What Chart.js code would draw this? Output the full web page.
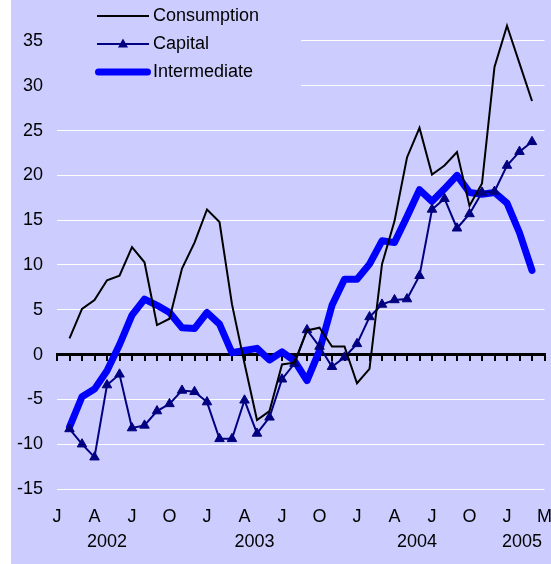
<!DOCTYPE html>
<html><head><meta charset="utf-8">
<script src="https://cdn.jsdelivr.net/npm/chart.js@4/dist/chart.umd.min.js"></script>
<style>
html,body{margin:0;padding:0;background:#fff;width:551px;height:564px;overflow:hidden}
#wrap{position:absolute;left:11px;top:0;width:540px;height:564px;background:#CCCCFF}
canvas{display:block}
</style></head><body><div id="wrap"><canvas id="c" width="540" height="564"></canvas></div>
<script>
const months = ['Jan 2002','Feb 2002','Mar 2002','Apr 2002','May 2002','Jun 2002','Jul 2002','Aug 2002','Sep 2002','Oct 2002','Nov 2002','Dec 2002',
  'Jan 2003','Feb 2003','Mar 2003','Apr 2003','May 2003','Jun 2003','Jul 2003','Aug 2003','Sep 2003','Oct 2003','Nov 2003','Dec 2003',
  'Jan 2004','Feb 2004','Mar 2004','Apr 2004','May 2004','Jun 2004','Jul 2004','Aug 2004','Sep 2004','Oct 2004','Nov 2004','Dec 2004',
  'Jan 2005','Feb 2005','Mar 2005','Apr 2005'];
const monthTicks = ['J','A','J','O','J','A','J','O','J','A','J','O','J','M'];
const yearLabels = ['2002','2003','2004','2005'];
const yTicks = [-15,-10,-5,0,5,10,15,20,25,30,35];
const consumption = [null,1.8,5.1,6.1,8.3,8.8,12.0,10.3,3.3,4.0,9.6,12.5,16.2,14.8,5.6,-1.0,-7.3,-6.3,-1.1,-0.9,2.7,3.0,0.9,0.9,-3.2,-1.6,10.1,14.9,22.0,25.3,20.1,21.1,22.6,16.6,19.1,32.1,36.7,32.5,28.3,null];
const capital = [null,-8.3,-10.0,-11.45,-3.4,-2.2,-8.2,-7.9,-6.3,-5.5,-4.0,-4.15,-5.3,-9.4,-9.4,-5.1,-8.8,-7.0,-2.75,-1.0,2.75,0.9,-1.35,-0.3,1.2,4.2,5.6,6.1,6.2,8.8,16.2,17.4,14.1,15.7,18.1,18.2,21.1,22.65,23.75,null];
const intermediate = [null,-8.1,-4.7,-3.85,-1.8,1.1,4.4,6.2,5.5,4.7,3.0,2.9,4.7,3.4,0.2,0.45,0.7,-0.6,0.3,-0.7,-2.9,0.45,5.5,8.4,8.4,10.1,12.7,12.5,15.4,18.4,17.1,18.5,20.0,18.1,17.9,18.1,16.9,13.6,9.4,null];

const FONT = "Arial, 'Liberation Sans', sans-serif";
const FS = 18;
const LAV = '#CCCCFF';

function legendSample(kind){
  const c = document.createElement('canvas');
  c.width = 58; c.height = 14;
  const g = c.getContext('2d');
  g.lineCap = 'butt';
  if (kind === 'line') {
    g.strokeStyle = '#000'; g.lineWidth = 2;
    g.beginPath(); g.moveTo(3,7); g.lineTo(55,7); g.stroke();
  } else if (kind === 'tri') {
    g.strokeStyle = '#000080'; g.lineWidth = 2;
    g.beginPath(); g.moveTo(3,7); g.lineTo(55,7); g.stroke();
    g.fillStyle = '#000080';
    g.beginPath(); g.moveTo(29,1.5); g.lineTo(34,10.5); g.lineTo(24,10.5); g.closePath(); g.fill();
  } else {
    g.strokeStyle = '#0000FF'; g.lineWidth = 7; g.lineCap = 'round';
    g.beginPath(); g.moveTo(4.5,7); g.lineTo(53.5,7); g.stroke();
  }
  return c;
}
const samples = [legendSample('line'), legendSample('tri'), legendSample('thick')];

const yearAt = [4.0, 15.8, 28.8, 37.2];

const chart = new Chart(document.getElementById('c'), {
  type: 'line',
  data: {
    labels: months,
    datasets: [
      {label:'Consumption', data: consumption, borderColor:'#000000', backgroundColor:'#000000', borderWidth:2, pointRadius:0, tension:0},
      {label:'Capital', data: capital, borderColor:'#000080', backgroundColor:'#000080', borderWidth:2, tension:0,
        pointStyle:'triangle', pointRadius:5.5, pointBorderWidth:1, pointBackgroundColor:'#000080', pointBorderColor:'#000080'},
      {label:'Intermediate', data: intermediate, borderColor:'#0000FF', backgroundColor:'#0000FF', borderWidth:7, pointRadius:0, tension:0,
        borderCapStyle:'round', borderJoinStyle:'round'}
    ]
  },
  options: {
    responsive:false, animation:false,
    layout:{padding:{left:0,right:3,top:0,bottom:0}},
    plugins:{
      tooltip:{enabled:false},
      legend:{
        position:'chartArea', align:'start',
        labels:{
          usePointStyle:true, pointStyleWidth:42, padding:10, color:'#000',
          font:{family:FONT, size:FS},
          generateLabels(ch){
            return ch.data.datasets.map((d,i)=>({text:d.label, pointStyle:samples[i], fillStyle:d.borderColor, strokeStyle:d.borderColor, lineWidth:0, hidden:false, datasetIndex:i, fontColor:'#000'}));
          }
        }
      }
    },
    scales:{
      x:{type:'category', position:'bottom', weight:0,
        grid:{display:false, drawTicks:false}, border:{display:false},
        ticks:{autoSkip:false, maxRotation:0, minRotation:0, padding:17.2, color:'#000', font:{family:FONT,size:FS},
          callback:(v,i)=> (i%3===0 ? monthTicks[i/3] : '')},
        afterFit(s){ s.height = 40; s.paddingLeft = 0; s.paddingRight = 0; }
      },
      xYear:{type:'linear', axis:'x', position:'bottom', weight:1, min:0, max:39,
        grid:{display:false, drawTicks:false}, border:{display:false},
        ticks:{autoSkip:false, maxRotation:0, minRotation:0, padding:2.2, color:'#000', font:{family:FONT,size:FS},
          callback:(v,i)=> yearLabels[i]},
        afterBuildTicks(s){ s.ticks = yearAt.map(v=>({value:v})); },
        afterFit(s){ s.height = 35; s.paddingLeft = 0; s.paddingRight = 0; }
      },
      x0:{type:'category', axis:'x', position:{y:0},
        grid:{display:true, drawOnChartArea:false, drawTicks:true, tickLength:5, color:'#000', lineWidth:2},
        border:{display:true, color:'#000', width:3},
        ticks:{display:false}
      },
      y:{type:'linear', position:'left', min:-15, max:38.85,
        grid:{color:'#FFFFFF', lineWidth:1, drawTicks:false}, border:{display:false},
        ticks:{padding:14, color:'#000', font:{family:FONT,size:FS}},
        afterBuildTicks(s){ s.ticks = yTicks.map(v=>({value:v})); },
        afterFit(s){ s.width = 46; s.paddingTop = 0; s.paddingBottom = 0; }
      }
    }
  },
  plugins:[{
    id:'legendPlace',
    afterLayout(ch){ ch.legend.left = 81; ch.legend.top = -3; },
    beforeDatasetsDraw(ch){
      const ctx = ch.ctx;
      ctx.save(); ctx.fillStyle = LAV; ctx.fillRect(ch.chartArea.left, 0, 244, 100); ctx.restore();
      ch.legend.draw();
    }
  }]
});
</script></body></html>
